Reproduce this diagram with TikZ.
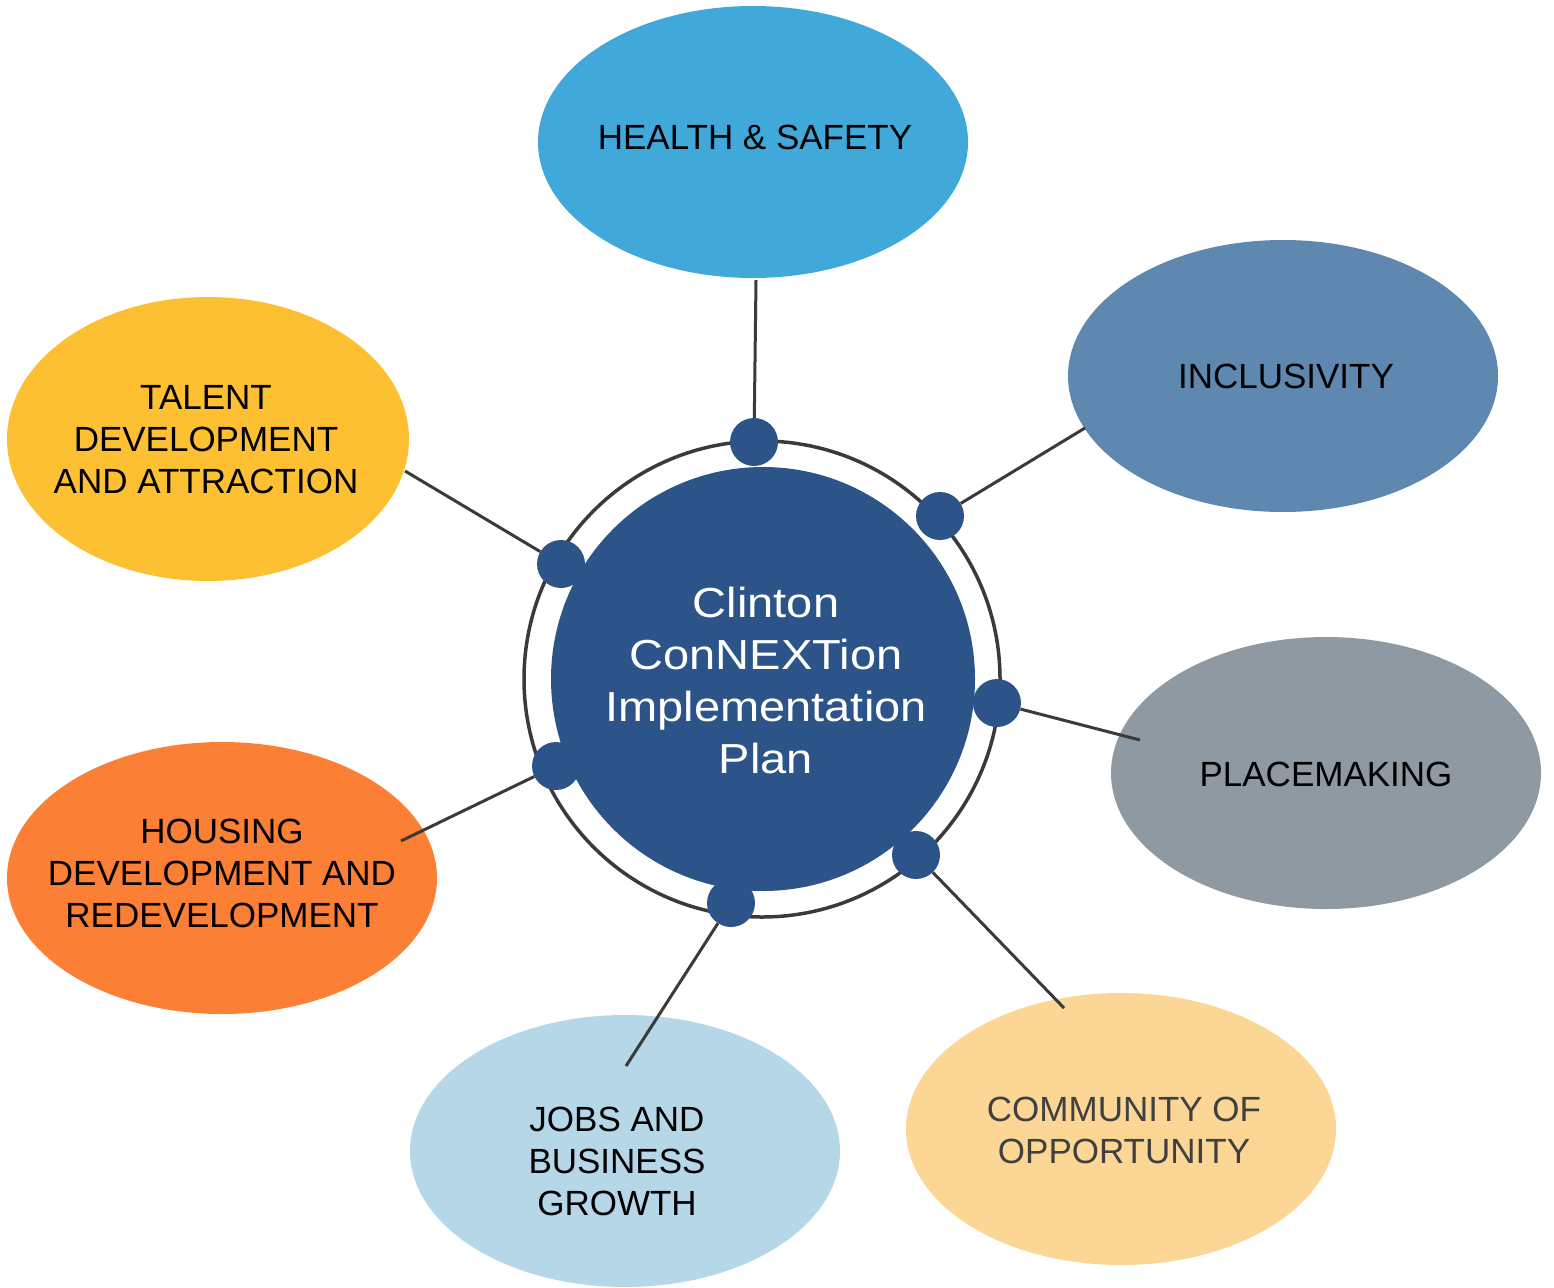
\documentclass[tikz,border=0pt]{standalone}
\usepackage{fontspec}
\setmainfont{Liberation Sans}
\newfontfamily\centerfont[FakeStretch=1.12]{Liberation Sans}
\usetikzlibrary{shapes.geometric}
\definecolor{chealth}{HTML}{41A8DA}
\definecolor{cincl}{HTML}{5E88AF}
\definecolor{cplace}{HTML}{8E99A2}
\definecolor{ccomm}{HTML}{FCD694}
\definecolor{cjobs}{HTML}{B6D7E7}
\definecolor{chouse}{HTML}{FB7F34}
\definecolor{ctalent}{HTML}{FDC033}
\definecolor{ccenter}{HTML}{2C5489}
\definecolor{cline}{HTML}{3A3A3A}
\definecolor{ctextgray}{HTML}{404040}
\tikzset{
  blob/.style={ellipse, fill=#1, draw=none, inner sep=0pt, minimum width=430pt, minimum height=272pt},
  lbl/.style={align=center, font=\fontsize{35}{42}\selectfont, text=black, inner sep=0pt},
  conn/.style={draw=cline, line width=3pt},
  hub/.style={circle, fill=ccenter, draw=none, minimum size=48pt, inner sep=0pt},
}
\begin{document}
\begin{tikzpicture}[x=1pt,y=-1pt]
\useasboundingbox (0,0) rectangle (1554,1287);
% ellipses
\node[blob=chealth] (health) at (753,142) {};
\node[blob=cincl] (incl) at (1283,376) {};
\node[blob=cplace] (place) at (1326,773) {};
\node[blob=ccomm] (comm) at (1121,1129) {};
\node[blob=cjobs] (jobs) at (625,1151) {};
\node[blob=chouse] (house) at (222,878) {};
\node[blob=ctalent, minimum width=402pt, minimum height=284pt] (talent) at (208,439) {};
% labels
\node[lbl] (thealth) at (755,137) {HEALTH \& SAFETY};
\node[lbl] (tincl) at (1286,376) {INCLUSIVITY};
\node[lbl] (tplace) at (1326,774) {PLACEMAKING};
\node[lbl, text=ctextgray] (tcomm) at (1124,1130) {COMMUNITY OF\\OPPORTUNITY};
\node[lbl] (tjobs) at (617,1161) {JOBS AND\\BUSINESS\\GROWTH};
\node[lbl] (thouse) at (222,873) {HOUSING\\DEVELOPMENT AND\\REDEVELOPMENT};
\node[lbl] (ttalent) at (206,440) {TALENT\\DEVELOPMENT\\AND ATTRACTION};
% free ends
\coordinate (e1) at (756,280);
\coordinate (e2) at (1085,428);
\coordinate (e3) at (1140,740);
\coordinate (e4) at (1064,1008);
\coordinate (e5) at (626,1066);
\coordinate (e6) at (401,841);
\coordinate (e7) at (405,471);
% hub dots positions
\coordinate (p1) at (754,442);
\coordinate (p2) at (940,516);
\coordinate (p3) at (997,703);
\coordinate (p4) at (916,855);
\coordinate (p5) at (731,903);
\coordinate (p6) at (556,766);
\coordinate (p7) at (561,564);
% ring
\node[circle, draw=cline, line width=3.5pt, minimum size=476pt, inner sep=0pt] (ring) at (762,679) {};
% central circle
\node[circle, fill=ccenter, minimum size=424pt, inner sep=0pt] (center) at (763,679) {};
\node[align=center, text=white, font=\centerfont\fontsize{42}{52}\selectfont, inner sep=0pt] (tcenter) at (766,680) {Clinton\\ConNEXTion\\Implementation\\Plan};
% dots
\node[hub] (d1) at (p1) {};
\node[hub] (d2) at (p2) {};
\node[hub] (d3) at (p3) {};
\node[hub] (d4) at (p4) {};
\node[hub] (d5) at (p5) {};
\node[hub] (d6) at (p6) {};
\node[hub] (d7) at (p7) {};
% connectors
\draw[conn] (d1) -- (e1);
\draw[conn] (d2) -- (e2);
\draw[conn] (d3) -- (e3);
\draw[conn] (d4) -- (e4);
\draw[conn] (d5) -- (e5);
\draw[conn] (d6) -- (e6);
\draw[conn] (d7) -- (e7);
\end{tikzpicture}
\end{document}
